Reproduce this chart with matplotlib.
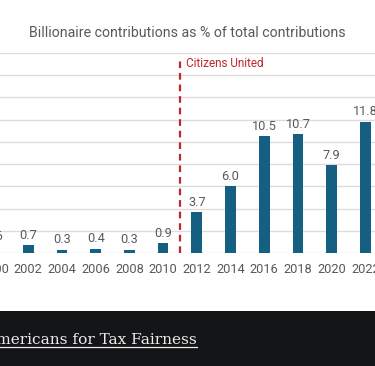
import matplotlib
matplotlib.use("Agg")
import matplotlib.pyplot as plt
from matplotlib.lines import Line2D
from matplotlib.patches import Rectangle

years = ["2000", "2002", "2004", "2006", "2008", "2010", "2012", "2014",
         "2016", "2018", "2020", "2022"]
values = [0.6, 0.7, 0.3, 0.4, 0.3, 0.9, 3.7, 6.0, 10.5, 10.7, 7.9, 11.8]
value_labels = ["0.6", "0.7", "0.3", "0.4", "0.3", "0.9", "3.7", "6.0",
                "10.5", "10.7", "7.9", "11.8"]
title = "Billionaire contributions as % of total contributions"
event_label = "Citizens United"
event_pos = 5.5  # between 2010 and 2012
source = "Americans for Tax Fairness"

W, H = 375, 366
DPI = 100
SANS = ["Roboto", "DejaVu Sans"]
GRAY = "#595959"
BAR = "#156082"
RED = "#c0272d"

fig = plt.figure(figsize=(W / DPI, H / DPI), dpi=DPI)
fig.patch.set_facecolor("white")

step = 33.7
c0 = -5.4
left_px = c0 - 0.5 * step
right_px = c0 + 11.5 * step
base_px = 253.3
top_px = 52.7
ax = fig.add_axes([left_px / W, (H - base_px) / H,
                   (right_px - left_px) / W, (base_px - top_px) / H])
x = list(range(len(years)))
ax.bar(x, values, width=0.32, color=BAR, zorder=3)
ax.set_xlim(-0.5, 11.5)
ax.set_ylim(0, 18)
ax.set_yticks(range(0, 19, 2))
ax.yaxis.grid(True, color="#dcdcdc", linewidth=1.0, zorder=0)
ax.set_axisbelow(True)
for s in ax.spines.values():
    s.set_visible(False)
ax.tick_params(axis="y", left=False, labelleft=False)
ax.tick_params(axis="x", length=0, pad=7, labelsize=9.2, labelcolor=GRAY)
ax.set_xticks(x)
ax.set_xticklabels(years, family=SANS)

for xi, v, lab in zip(x, values, value_labels):
    ax.annotate(lab, (xi, v), xytext=(0, 4.7), textcoords="offset points",
                ha="center", va="baseline", fontsize=9.2, color=GRAY,
                family=SANS, annotation_clip=False)

ax.plot([event_pos, event_pos], [0, 17.6], color=RED, lw=1.6,
        dashes=(3.0, 2.2), zorder=4)
ax.text(event_pos + 0.17, 17.0, event_label, color=RED, fontsize=8.5,
        family=SANS, va="center", ha="left")

fig.text(0.5, 1 - 33 / H, title, ha="center", va="center", fontsize=10.2,
         color=GRAY, family=SANS)

fig.patches.append(Rectangle((0, 0), 1, (H - 311) / H, transform=fig.transFigure,
                             facecolor="#141517", edgecolor="none", zorder=0))
t = fig.text(196.7 / W, (H - 344) / H, source, ha="right", va="baseline",
             fontsize=11.1, color="#ececec", family=["DejaVu Serif", "Liberation Serif"])
fig.canvas.draw()
bb = t.get_window_extent(renderer=fig.canvas.get_renderer())
uy = (H - 346.8) / H
fig.lines.append(Line2D([bb.x0 / W, bb.x1 / W], [uy, uy], transform=fig.transFigure,
                        color="#ececec", lw=0.9))

fig.savefig("out.png", dpi=DPI)
